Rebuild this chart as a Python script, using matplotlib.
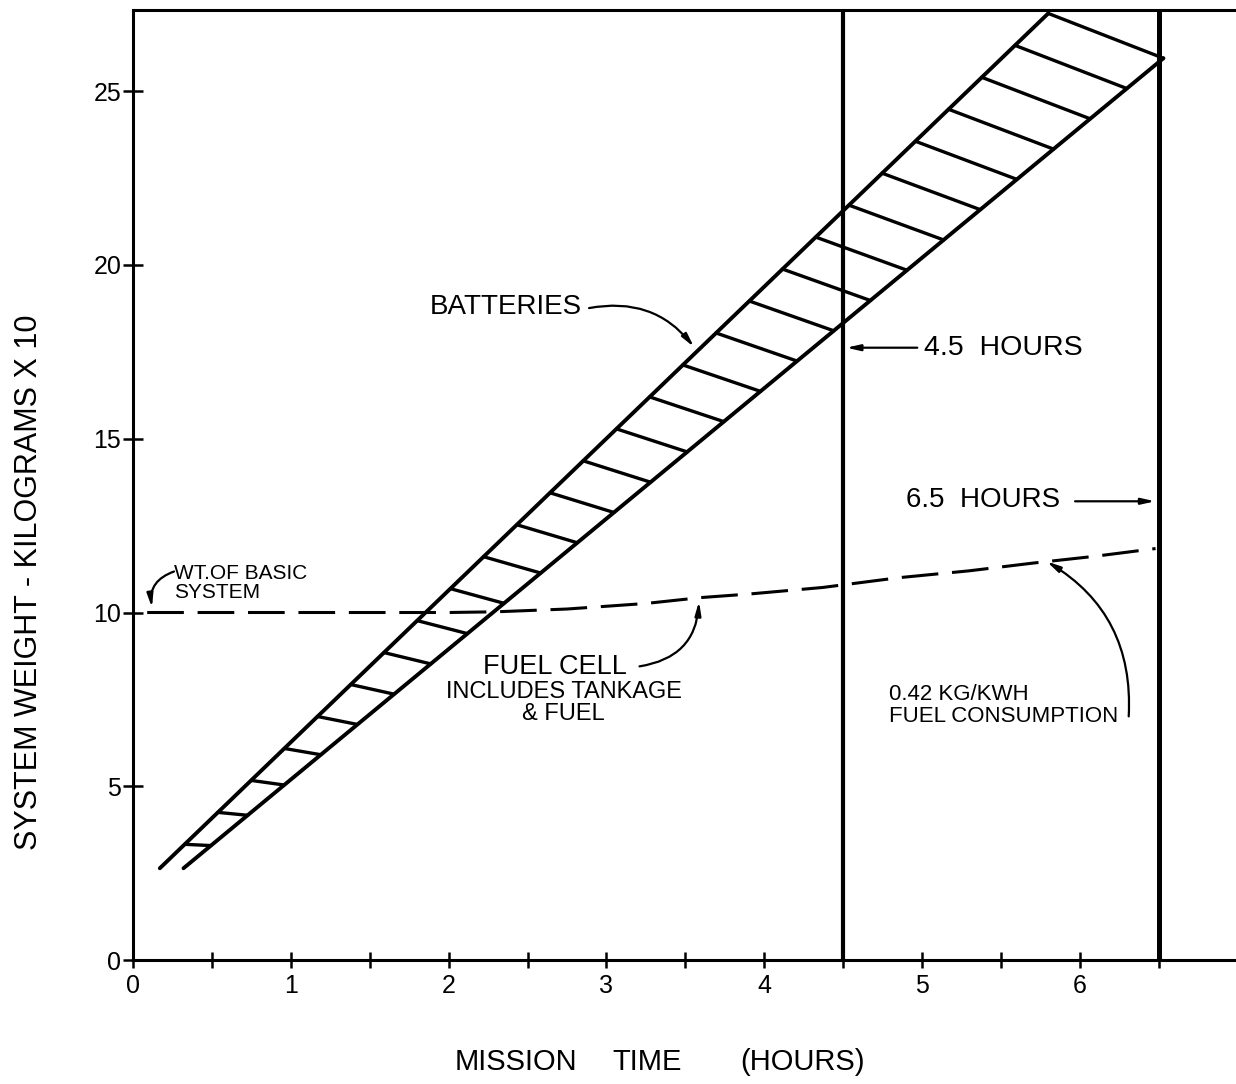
import matplotlib
matplotlib.use("Agg")
import numpy as np
import matplotlib.pyplot as plt

plt.rcParams['font.family'] = ['Liberation Sans', 'DejaVu Sans']

# battery band: upper and lower edge end points (hours, kg x 10)
batt_top_x = [0.17, 5.80]
batt_top_y = [2.64, 27.24]
batt_bot_x = [0.32, 6.53]
batt_bot_y = [2.64, 25.95]
n_rungs = 27

# fuel cell weight curve (dashed)
fuel_x = [0.09, 1.0, 2.0, 2.3, 2.75, 3.25, 3.6, 3.9, 4.37, 4.85, 5.3, 5.7, 6.1, 6.48]
fuel_y = [10.0, 10.0, 10.0, 10.02, 10.1, 10.26, 10.43, 10.53, 10.72, 11.0, 11.2, 11.42, 11.62, 11.84]

mission_hours = [4.5, 6.5]

x_ticks = [0, 1, 2, 3, 4, 5, 6]
x_minor = [0.5, 1.5, 2.5, 3.5, 4.5, 5.5, 6.5]
y_ticks = [0, 5, 10, 15, 20, 25]

W, H = 1236, 1084
fig = plt.figure(figsize=(W / 100, H / 100), dpi=100)
ax = fig.add_axes([133 / W, 124 / H, 1103 / W, 950 / H])
ax.set_xlim(0, 1103 / 157.8)
ax.set_ylim(0, 950 / 34.75)

# batteries band
ax.plot(batt_top_x, batt_top_y, color='black', lw=2.8, solid_capstyle='round')
ax.plot(batt_bot_x, batt_bot_y, color='black', lw=2.8, solid_capstyle='round')
for t in np.linspace(0.028, 1.0, n_rungs):
    ux = batt_top_x[0] + t * (batt_top_x[1] - batt_top_x[0])
    uy = batt_top_y[0] + t * (batt_top_y[1] - batt_top_y[0])
    lx = batt_bot_x[0] + t * (batt_bot_x[1] - batt_bot_x[0])
    ly = batt_bot_y[0] + t * (batt_bot_y[1] - batt_bot_y[0])
    ax.plot([ux, lx], [uy, ly], color='black', lw=2.4, solid_capstyle='round')

# fuel cell
ax.plot(fuel_x, fuel_y, color='black', lw=2.2, dashes=(12, 4.5))

# mission duration lines
for h, w in zip(mission_hours, [3.0, 3.6]):
    ax.axvline(h, color='black', lw=w)

for side in ['left', 'bottom', 'top']:
    ax.spines[side].set_linewidth(2.2)
ax.spines['right'].set_visible(False)

ax.set_xticks(x_ticks)
ax.set_xticks(x_minor, minor=True)
ax.set_yticks(y_ticks)
ax.tick_params(axis='both', which='both', direction='inout', width=1.8, labelsize=18)
ax.tick_params(axis='x', which='both', length=12, pad=4)
ax.tick_params(axis='y', length=15, pad=1)

arrow = dict(arrowstyle='-|>,head_length=0.8,head_width=0.18', color='black', lw=1.6,
             shrinkA=0, shrinkB=0)

ax.text(2.364, 18.8, 'BATTERIES', fontsize=20, ha='center', va='center')
ax.annotate('', xy=(3.555, 17.64), xytext=(2.89, 18.76),
            arrowprops=dict(arrow, connectionstyle='arc3,rad=-0.3'))

ax.text(5.01, 17.62, '4.5  HOURS', fontsize=20.5, ha='left', va='center')
ax.annotate('', xy=(4.52, 17.62), xytext=(4.97, 17.62), arrowprops=arrow)

ax.text(4.90, 13.25, '6.5  HOURS', fontsize=20, ha='left', va='center')
ax.annotate('', xy=(6.477, 13.2), xytext=(5.97, 13.2), arrowprops=arrow)

ax.text(0.26, 10.85, 'WT.OF BASIC\nSYSTEM', fontsize=15, ha='left', va='center', linespacing=1.0)
ax.annotate('', xy=(0.12, 10.14), xytext=(0.26, 11.18),
            arrowprops=dict(arrow, connectionstyle='arc3,rad=0.4'))

ax.text(2.677, 8.43, 'FUEL CELL', fontsize=19.5, ha='center', va='center')
ax.text(2.73, 7.72, 'INCLUDES TANKAGE', fontsize=17, ha='center', va='center')
ax.text(2.73, 7.08, '& FUEL', fontsize=17, ha='center', va='center')
ax.annotate('', xy=(3.587, 10.32), xytext=(3.21, 8.45),
            arrowprops=dict(arrow, connectionstyle='arc3,rad=0.4'))

ax.text(4.79, 7.33, '0.42 KG/KWH\nFUEL CONSUMPTION', fontsize=16, ha='left', va='center',
        linespacing=1.05)
ax.annotate('', xy=(5.79, 11.47), xytext=(6.31, 7.01),
            arrowprops=dict(arrow, connectionstyle='arc3,rad=0.3'))

# x axis title, word by word to follow the wide lettering
for word, px in zip(['MISSION', 'TIME', '(HOURS)'], [516, 647, 802]):
    fig.text(px / W, 1 - 1062 / H, word, fontsize=21, ha='center', va='center')
fig.text(29 / W, 1 - 582 / H, 'SYSTEM WEIGHT - KILOGRAMS X 10', fontsize=22,
         rotation=90, ha='center', va='center')

fig.savefig('out.png', dpi=100)
